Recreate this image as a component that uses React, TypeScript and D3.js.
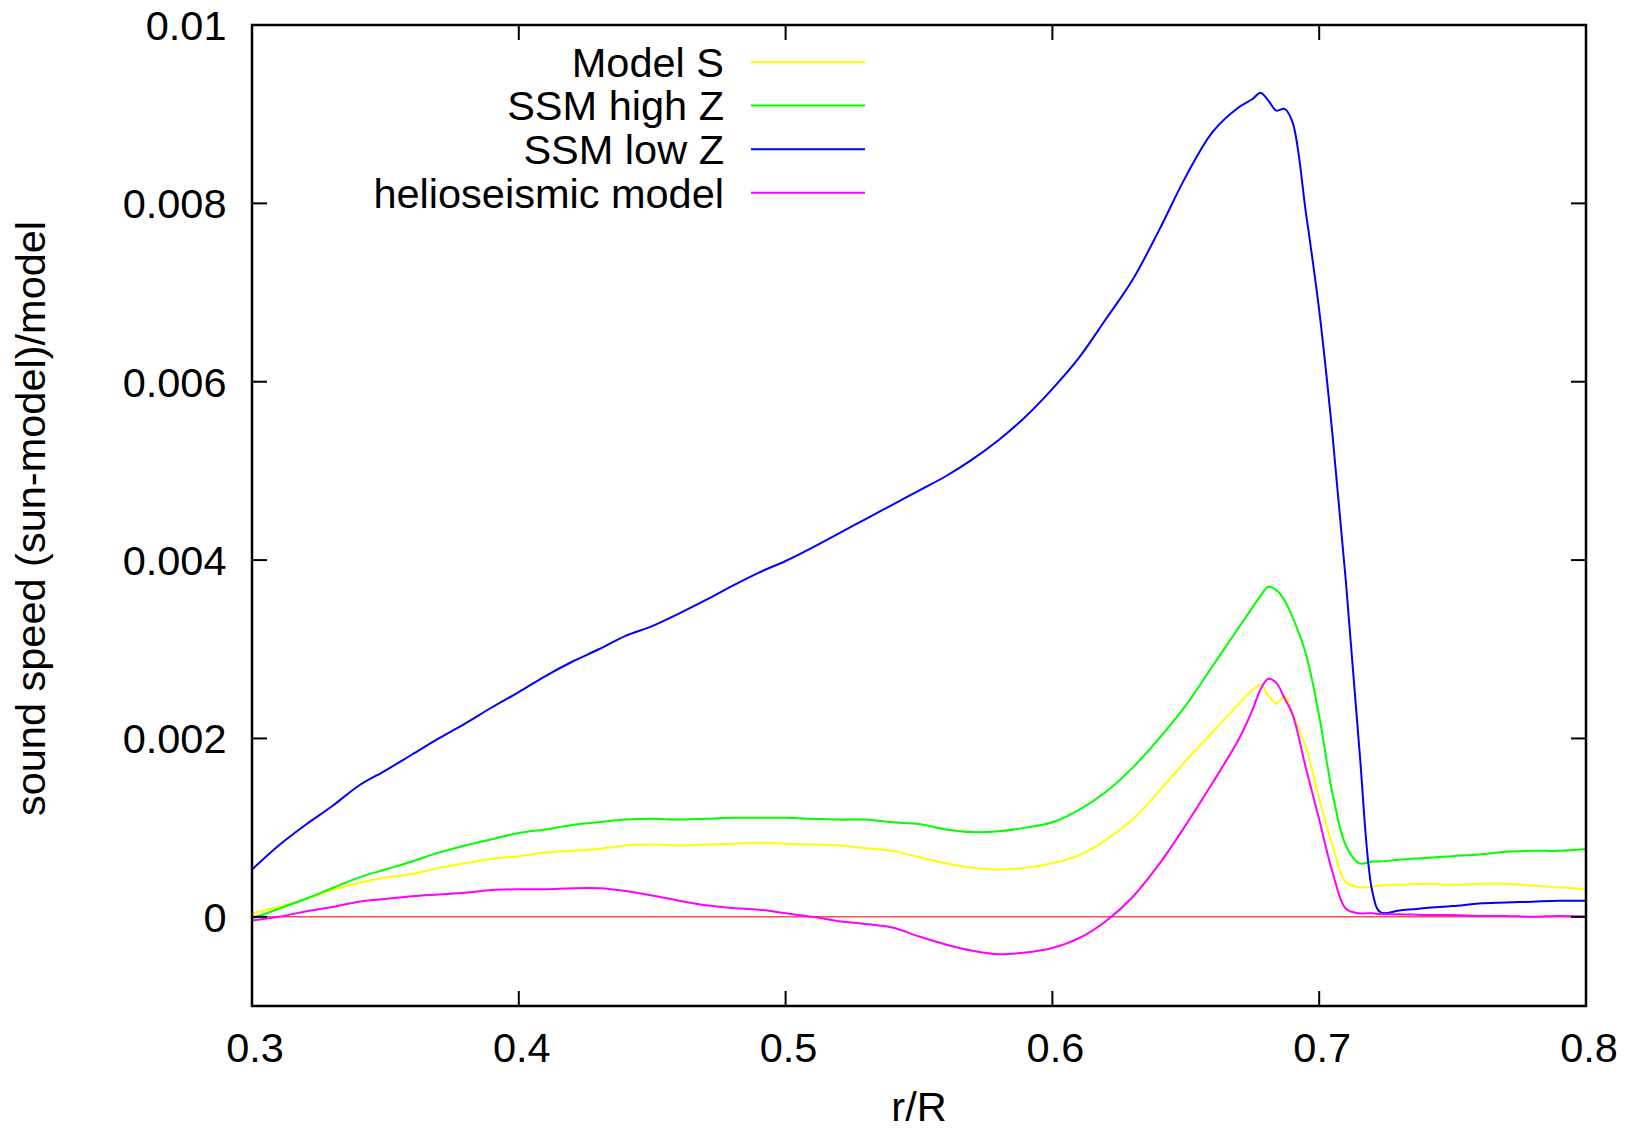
import React from "react";
import * as d3 from "d3";

const rValues = [0.3, 0.31, 0.32, 0.33, 0.34, 0.35, 0.36, 0.37, 0.38, 0.39, 0.4, 0.41, 0.42, 0.43, 0.44, 0.45, 0.46, 0.47, 0.48, 0.49, 0.5, 0.51, 0.52, 0.53, 0.54, 0.55, 0.56, 0.57, 0.58, 0.59, 0.6, 0.61, 0.62, 0.63, 0.64, 0.65, 0.66, 0.67, 0.675, 0.678, 0.681, 0.684, 0.687, 0.69, 0.695, 0.7, 0.705, 0.71, 0.715, 0.72, 0.723, 0.73, 0.74, 0.75, 0.76, 0.77, 0.78, 0.79, 0.8];

const modelS = [0.00004, 0.00011, 0.0002, 0.0003, 0.00038, 0.00044, 0.00048, 0.00055, 0.0006, 0.00065, 0.00068, 0.00072, 0.00074, 0.00076, 0.0008, 0.00081, 0.0008, 0.00081, 0.00082, 0.00083, 0.00082, 0.00081, 0.0008, 0.00077, 0.00074, 0.00067, 0.0006, 0.00055, 0.00053, 0.00055, 0.0006, 0.00069, 0.00086, 0.00109, 0.00141, 0.00175, 0.00207, 0.00239, 0.00254, 0.0026, 0.00248, 0.00239, 0.00248, 0.00227, 0.0019, 0.00132, 0.0008, 0.00039, 0.00033, 0.00034, 0.00035, 0.00036, 0.00037, 0.00036, 0.00037, 0.00037, 0.00035, 0.00033, 0.00031];

const ssmHighZ = [-0.00002, 0.00009, 0.0002, 0.00032, 0.00044, 0.00053, 0.00062, 0.00072, 0.0008, 0.00087, 0.00094, 0.00098, 0.00103, 0.00106, 0.00109, 0.0011, 0.00109, 0.0011, 0.00111, 0.00111, 0.00111, 0.0011, 0.00109, 0.00109, 0.00106, 0.00104, 0.00098, 0.00095, 0.00096, 0.001, 0.00106, 0.0012, 0.0014, 0.00167, 0.002, 0.00237, 0.00281, 0.00325, 0.00347, 0.0036, 0.0037, 0.00366, 0.00355, 0.00336, 0.00295, 0.00225, 0.00138, 0.0008, 0.0006, 0.00062, 0.00062, 0.00064, 0.00066, 0.00068, 0.0007, 0.00073, 0.00074, 0.00074, 0.00076];

const ssmLowZ = [0.00053, 0.0008, 0.00103, 0.00124, 0.00147, 0.00164, 0.00182, 0.002, 0.00217, 0.00235, 0.00252, 0.0027, 0.00286, 0.003, 0.00315, 0.00326, 0.0034, 0.00355, 0.00371, 0.00386, 0.00399, 0.00414, 0.0043, 0.00446, 0.00462, 0.00478, 0.00494, 0.00513, 0.00535, 0.00561, 0.00592, 0.00627, 0.0067, 0.00714, 0.0077, 0.0083, 0.0088, 0.00908, 0.00917, 0.00924, 0.00915, 0.00904, 0.00906, 0.00891, 0.0079, 0.0068, 0.0054, 0.00376, 0.0019, 0.00027, 0.00005, 0.00007, 0.0001, 0.00012, 0.00015, 0.00016, 0.00017, 0.00018, 0.00018];

const helioModel = [-0.00004, 0.0, 0.00006, 0.00011, 0.00017, 0.0002, 0.00023, 0.00025, 0.00027, 0.0003, 0.00031, 0.00031, 0.00032, 0.00032, 0.00029, 0.00024, 0.00018, 0.00013, 0.0001, 0.00008, 0.00004, 0.0, -0.00005, -0.00008, -0.00012, -0.00022, -0.00031, -0.00038, -0.00042, -0.0004, -0.00035, -0.00024, -0.00005, 0.00022, 0.00059, 0.00103, 0.0015, 0.002, 0.00232, 0.00255, 0.00267, 0.00262, 0.00245, 0.00227, 0.00167, 0.00109, 0.0005, 0.00009, 0.00004, 0.00004, 0.00003, 0.00003, 0.00002, 0.00002, 0.00001, 0.00001, 0.0, 0.00001, 0.0];

const seriesNames = ["Model S", "SSM high Z", "SSM low Z", "helioseismic model"];
const seriesColors = ["#ffff00", "#00ff00", "#0000ff", "#ff00ff"];
const seriesValues = [modelS, ssmHighZ, ssmLowZ, helioModel];

const xTicks = [0.3, 0.4, 0.5, 0.6, 0.7, 0.8];
const xTickLabels = ["0.3", "0.4", "0.5", "0.6", "0.7", "0.8"];
const yTicks = [0.01, 0.008, 0.006, 0.004, 0.002, 0];
const yTickLabels = ["0.01", "0.008", "0.006", "0.004", "0.002", "0"];

const W = 1627;
const H = 1131;
const L = 252;
const R = 1586;
const T = 25;
const B = 1006;
const FS = 41.5;
const FONT = "'Liberation Sans', Arial, Helvetica, sans-serif";

export default function App() {
  const x = d3.scaleLinear().domain([0.3, 0.8]).range([L, R]);
  const y = d3.scaleLinear().domain([-0.001, 0.01]).range([B, T]);
  const line = d3
    .line<[number, number]>()
    .x((d) => x(d[0]))
    .y((d) => y(d[1]))
    .curve(d3.curveCatmullRom.alpha(0.5));
  const tickLen = 15;
  const legendRowY = (i: number) => 62 + i * 43.6;
  const capHalf = FS * 0.358;

  return (
    <svg
      width={W}
      height={H}
      style={{ position: "absolute", left: 0, top: 0, background: "#fff" }}
      fontFamily={FONT}
    >
      <rect x={0} y={0} width={W} height={H} fill="#fff" />
      <defs>
        <clipPath id="plotclip">
          <rect x={L} y={T} width={R - L} height={B - T} />
        </clipPath>
      </defs>
      {/* zero line */}
      <line x1={L} x2={R} y1={y(0)} y2={y(0)} stroke="#f05050" strokeWidth={1.5} />
      <g clipPath="url(#plotclip)">
        {seriesValues.map((vals, si) => (
          <path
            key={si}
            d={line(rValues.map((r, i) => [r, vals[i]] as [number, number])) || ""}
            fill="none"
            stroke={seriesColors[si]}
            strokeWidth={2}
            strokeLinejoin="round"
          />
        ))}
      </g>
      {/* ticks */}
      {yTicks.map((t, i) => (
        <g key={"y" + i}>
          <line x1={L} x2={L + tickLen} y1={y(t)} y2={y(t)} stroke="#000" strokeWidth={2} />
          <line x1={R} x2={R - tickLen} y1={y(t)} y2={y(t)} stroke="#000" strokeWidth={2} />
          <text x={226.5} y={y(t) + capHalf} textAnchor="end" fontSize={FS} fill="#000">
            {yTickLabels[i]}
          </text>
        </g>
      ))}
      {xTicks.map((t, i) => (
        <g key={"x" + i}>
          <line x1={x(t)} x2={x(t)} y1={B} y2={B - tickLen} stroke="#000" strokeWidth={2} />
          <line x1={x(t)} x2={x(t)} y1={T} y2={T + tickLen} stroke="#000" strokeWidth={2} />
          <text x={x(t) + 3} y={1062} textAnchor="middle" fontSize={FS} fill="#000">
            {xTickLabels[i]}
          </text>
        </g>
      ))}
      {/* frame */}
      <rect x={L} y={T} width={R - L} height={B - T} fill="none" stroke="#000" strokeWidth={2.5} />
      {/* axis labels */}
      <text x={(L + R) / 2} y={1121} textAnchor="middle" fontSize={FS} fill="#000">
        r/R
      </text>
      <text
        transform={`translate(45, ${(T + B) / 2 + 3}) rotate(-90)`}
        textAnchor="middle"
        fontSize={FS}
        fill="#000"
      >
        sound speed (sun-model)/model
      </text>
      {/* legend */}
      {seriesNames.map((name, i) => (
        <g key={"lg" + i}>
          <text x={724} y={legendRowY(i) + capHalf} textAnchor="end" fontSize={FS} fill="#000">
            {name}
          </text>
          <line
            x1={751}
            x2={865}
            y1={legendRowY(i)}
            y2={legendRowY(i)}
            stroke={seriesColors[i]}
            strokeWidth={2}
          />
        </g>
      ))}
    </svg>
  );
}
